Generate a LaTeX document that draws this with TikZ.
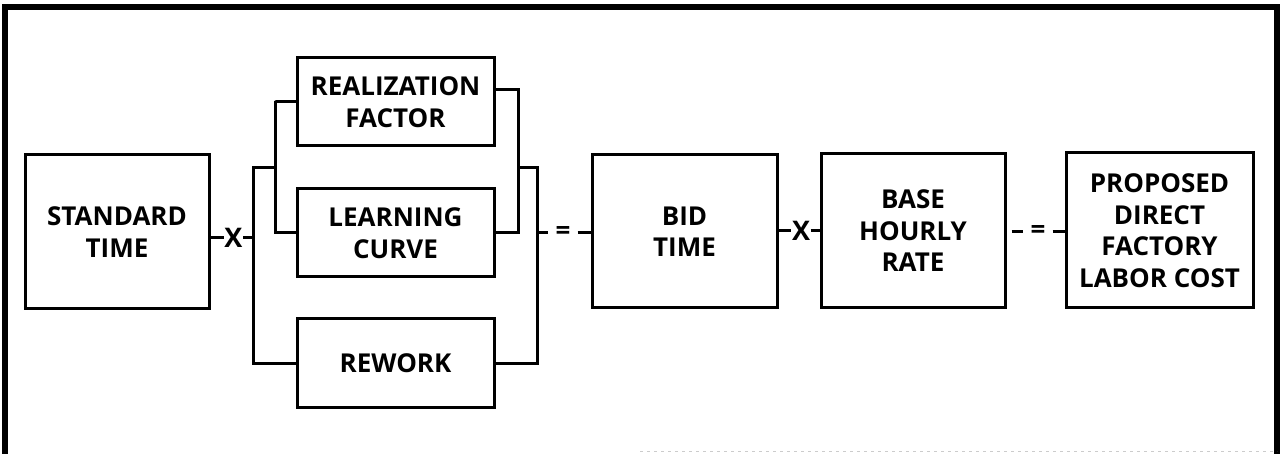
\documentclass[tikz,border=0pt]{standalone}
\usepackage{fontspec}
\setmainfont{Open Sans}
\begin{document}
\begin{tikzpicture}[x=1pt,y=-1pt,
  box/.style={draw, line width=3pt, minimum width=#1, inner sep=0pt,
    align=center, font=\bfseries\fontsize{26}{31.5}\selectfont},
  conn/.style={line width=3pt},
  opx/.style={inner sep=0.5pt, font=\bfseries\fontsize{27}{27}\selectfont},
  opeq/.style={inner xsep=7pt, inner ysep=1pt, font=\bfseries\fontsize{26}{26}\selectfont}]
\useasboundingbox (0,0) rectangle (1280,454);
% outer frame
\draw[line width=5.5pt] (5,454) -- (5,7) -- (1277,7) -- (1277,454);
\draw[line width=1pt, black!20, dash pattern=on 3pt off 4pt] (640,451) -- (1277,451);

% boxes
\node[box=184pt, minimum height=154pt] (std) at (117,232) {STANDARD\\TIME};
\node[box=197pt, minimum height=88pt] (rf) at (395.5,102) {REALIZATION\\FACTOR};
\node[box=197pt, minimum height=88pt] (lc) at (395.5,233) {LEARNING\\CURVE};
\node[box=197pt, minimum height=88pt] (rw) at (395.5,363) {REWORK};
\node[box=185pt, minimum height=153pt] (bid) at (684.5,231.5) {BID\\TIME};
\node[box=184pt, minimum height=154pt] (base) at (913,231) {BASE\\HOURLY\\RATE};
\node[box=187pt, minimum height=155pt] (prop) at (1159.5,230.5) {PROPOSED\\DIRECT\\FACTORY\\LABOR COST};

% bracket corners
\coordinate (Lout) at (253,168);
\coordinate (Lin) at (275,101);
\coordinate (Rin) at (518,90);
\coordinate (Rout) at (537,168);

% operators
\node[opx] (x1) at (233.5,238) {X};
\node[opeq] (e1) at (563,233) {=};
\node[opx] (x2) at (801,231) {X};
\node[opeq] (e2) at (1038,232) {=};

% left brackets
\draw[conn] (rf.west) -| (Lin) |- (lc.west);
\draw[conn] (rw.west) -| (Lout) -- (Lout -| Lin);
% right brackets
\draw[conn] ([yshift=12pt]rf.east) -| (Rin) |- (lc.east);
\draw[conn] (rw.east) -| (Rout) -- (Rout -| Rin);

% operator connectors
\draw[conn] (std.east |- x1) -- (x1);
\draw[conn] (x1) -- (x1 -| Lout);
\draw[conn] (Rout |- e1) -- (e1);
\draw[conn] (e1) -- (bid.west |- e1);
\draw[conn] (bid.east |- x2) -- (x2);
\draw[conn] (x2) -- (base.west |- x2);
\draw[conn, shorten <=5pt] (base.east |- e2) -- (e2);
\draw[conn] (e2) -- (prop.west |- e2);
\end{tikzpicture}
\end{document}
